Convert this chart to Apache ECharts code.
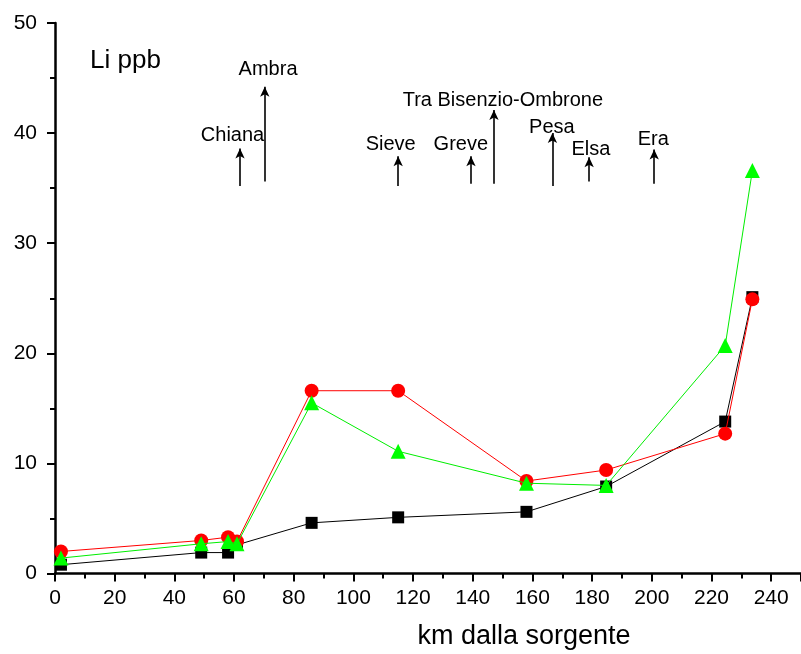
<!DOCTYPE html>
<html>
<head>
<meta charset="utf-8">
<script src="https://cdn.jsdelivr.net/npm/echarts@6/dist/echarts.min.js"></script>
<style>html,body{margin:0;padding:0;background:#fff;}#c{width:801px;height:654px;}</style>
</head>
<body>
<div id="c"></div>
<script>
// Data
const km = [2, 49, 58, 61, 86, 115, 158, 184.7, 224.6, 233.7];
const blackVals = [0.8, 1.9, 1.9, 2.6, 4.6, 5.1, 5.6, 7.9, 13.8, 25.1];
const redVals = [2.0, 3.0, 3.3, 2.9, 16.6, 16.6, 8.4, 9.4, 12.7, 24.9];
const greenVals = [1.4, 2.7, 2.9, 2.7, 15.5, 11.1, 8.2, 8.0, 20.7, 36.6];

const xTicks = [0, 20, 40, 60, 80, 100, 120, 140, 160, 180, 200, 220, 240];
const yTicks = [0, 10, 20, 30, 40, 50];

// Tributary annotations (arrows)
const tribNames = ['Chiana', 'Ambra', 'Sieve', 'Greve', 'Tra Bisenzio-Ombrone', 'Pesa', 'Elsa', 'Era'];
const tribX = [62.0, 70.3, 115.0, 139.4, 147.1, 166.7, 179.0, 200.8];
const arrowBottom = [35.2, 35.6, 35.2, 35.4, 35.4, 35.2, 35.6, 35.4];
const arrowTop = [38.6, 44.2, 37.9, 37.9, 42.1, 40.0, 37.8, 38.5];
const labelX = [59.5, 71.4, 112.5, 136.0, 150.1, 166.5, 179.6, 200.5];
const labelY = [39.8, 45.8, 39.0, 39.0, 43.0, 40.5, 38.5, 39.4];

const pair = (xs, ys) => xs.map((x, i) => [x, ys[i]]);

const chart = echarts.init(document.getElementById('c'), null, {renderer: 'canvas'});
const font = 'Liberation Sans, Arial, sans-serif';

chart.setOption({
  animation: false,
  backgroundColor: '#fff',
  title: {
    text: 'Li ppb',
    left: 85, top: 43,
    textStyle: {fontFamily: font, fontSize: 26, fontWeight: 'normal', color: '#000'}
  },
  grid: {left: 55, top: 23, right: 0, bottom: 80.5, containLabel: false, outerBoundsMode: 'none'},
  xAxis: {
    type: 'value', min: 0, max: 250, interval: 20,
    name: 'km dalla sorgente', nameLocation: 'middle', nameGap: 50,
    nameTextStyle: {fontFamily: font, fontSize: 27, color: '#000', padding: [0, 0, 0, 192]},
    axisLine: {show: true, onZero: false, lineStyle: {color: '#000', width: 2.5}},
    axisTick: {show: true, length: 8, lineStyle: {color: '#000', width: 2}},
    minorTick: {show: true, splitNumber: 2, length: 5, lineStyle: {color: '#000', width: 2}},
    axisLabel: {fontFamily: font, fontSize: 21, color: '#000', margin: 14, showMaxLabel: false,
      formatter: v => xTicks.indexOf(v) >= 0 ? String(v) : ''},
    splitLine: {show: false}
  },
  yAxis: {
    type: 'value', min: 0, max: 50, interval: 10,
    axisLine: {show: true, onZero: false, lineStyle: {color: '#000', width: 2.5}},
    axisTick: {show: true, length: 8, lineStyle: {color: '#000', width: 2}},
    minorTick: {show: true, splitNumber: 2, length: 5, lineStyle: {color: '#000', width: 2}},
    axisLabel: {fontFamily: font, fontSize: 21, color: '#000', margin: 18,
      formatter: v => yTicks.indexOf(v) >= 0 ? String(v) : ''},
    splitLine: {show: false}
  },
  series: [
    {
      name: 'black', type: 'line', data: pair(km, blackVals),
      symbol: 'rect', symbolSize: 12, showAllSymbol: true,
      lineStyle: {color: '#000', width: 1}, itemStyle: {color: '#000'}, z: 2
    },
    {
      name: 'red', type: 'line', data: pair(km, redVals),
      symbol: 'circle', symbolSize: 14, showAllSymbol: true,
      lineStyle: {color: '#ff0000', width: 1}, itemStyle: {color: '#ff0000'}, z: 3
    },
    {
      name: 'green', type: 'line', data: pair(km, greenVals),
      symbol: 'triangle', symbolSize: 15, showAllSymbol: true,
      lineStyle: {color: '#00ee00', width: 1}, itemStyle: {color: '#00ff00'}, z: 4
    },
    {
      name: 'arrows', type: 'line', data: [],
      markLine: {
        silent: true, animation: false,
        symbol: ['none', 'arrow'], symbolSize: [7, 10],
        label: {show: false},
        lineStyle: {color: '#000', width: 1.6, type: 'solid'},
        data: tribX.map((x, i) => [{coord: [x, arrowBottom[i]]}, {coord: [x, arrowTop[i]]}])
      }
    },
    {
      name: 'tribLabels', type: 'scatter', symbolSize: 0, silent: true,
      itemStyle: {opacity: 1},
      data: tribNames.map((n, i) => ({name: n, value: [labelX[i], labelY[i]]})),
      label: {show: true, position: 'inside', formatter: p => p.name, opacity: 1,
        fontFamily: font, fontSize: 20, color: '#000'}
    }
  ]
});
</script>
</body>
</html>
